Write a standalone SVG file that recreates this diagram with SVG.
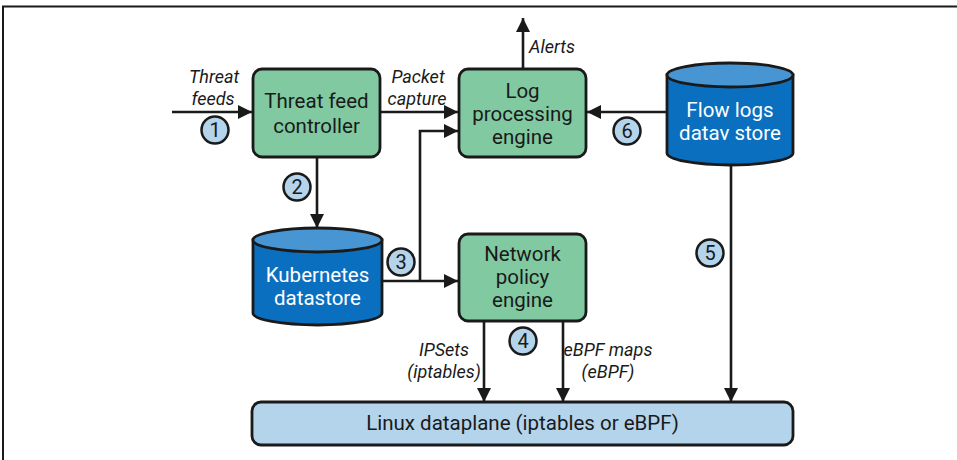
<svg xmlns="http://www.w3.org/2000/svg" width="957" height="460" viewBox="0 0 957 460">
<defs>
<style>
.box{fill:#80c9a1;stroke:#1a1a1a;stroke-width:2.8}
.dp{fill:#b3d4eb;stroke:#1a1a1a;stroke-width:2.8}
.cylb{fill:#0b6fbf;stroke:#1a1a1a;stroke-width:2.8}
.cylt{fill:#4895d3;stroke:#1a1a1a;stroke-width:2.8}
.t{font-family:Roboto,"Liberation Sans",sans-serif;font-size:20.5px;fill:#1a1a1a;text-anchor:middle}
.w{fill:#ffffff}
.i{font-family:Roboto,"Liberation Sans",sans-serif;font-size:18px;font-style:italic;fill:#1a1a1a;text-anchor:middle}
.c{fill:#b3d4eb;stroke:#1a1a1a;stroke-width:2.5}
.n{font-family:Roboto,"Liberation Sans",sans-serif;font-size:20px;fill:#1a1a1a;text-anchor:middle}
.ln{fill:none;stroke:#1a1a1a;stroke-width:2.6}
</style>
<marker id="ah" viewBox="0 0 10 10" refX="10" refY="5" markerWidth="5.5" markerHeight="5.5" markerUnits="strokeWidth" orient="auto">
<path d="M0,0 L10,5 L0,10 z" fill="#1a1a1a"/>
</marker>
</defs>
<rect width="957" height="460" fill="#ffffff"/>
<path d="M3,460 V6.5 H957" fill="none" stroke="#1a1a1a" stroke-width="2"/>

<g id="connectors">
<path class="ln" d="M172,112 H252" marker-end="url(#ah)"/>
<path class="ln" d="M380,112 H458" marker-end="url(#ah)"/>
<path class="ln" d="M382,281 H458" marker-end="url(#ah)"/>
<path class="ln" d="M420,281 V131 H458" marker-end="url(#ah)"/>
<path class="ln" d="M523,69 V18" marker-end="url(#ah)"/>
<path class="ln" d="M667,112 H587" marker-end="url(#ah)"/>
<path class="ln" d="M317,157 V228" marker-end="url(#ah)"/>
<path class="ln" d="M731,165 V402" marker-end="url(#ah)"/>
<path class="ln" d="M484,321 V402" marker-end="url(#ah)"/>
<path class="ln" d="M563,321 V402" marker-end="url(#ah)"/>
<text class="i" x="214" y="83">Threat</text>
<text class="i" x="213" y="105">feeds</text>
<text class="i" x="418" y="83">Packet</text>
<text class="i" x="417" y="105">capture</text>
<text class="i" x="529" y="53" style="text-anchor:start">Alerts</text>
<text class="i" x="444" y="356">IPSets</text>
<text class="i" x="444" y="378">(iptables)</text>
<text class="i" x="608" y="356">eBPF maps</text>
<text class="i" x="608" y="378">(eBPF)</text>
<g id="n1"><circle class="c" cx="215" cy="130" r="13.5"/><text class="n" x="215" y="137">1</text></g>
<g id="n2"><circle class="c" cx="297" cy="187" r="13.5"/><text class="n" x="297" y="194">2</text></g>
<g id="n3"><circle class="c" cx="401" cy="262" r="13.5"/><text class="n" x="401" y="269">3</text></g>
<g id="n4"><circle class="c" cx="523" cy="341" r="13.5"/><text class="n" x="523" y="348">4</text></g>
<g id="n5"><circle class="c" cx="710" cy="253" r="13.5"/><text class="n" x="710" y="260">5</text></g>
<g id="n6"><circle class="c" cx="627" cy="131" r="13.5"/><text class="n" x="627" y="138">6</text></g>
</g>

<g id="threat-feed-controller">
<rect class="box" x="253" y="69" width="127" height="88" rx="9"/>
<text class="t" x="316.5" y="108">Threat feed</text>
<text class="t" x="316.5" y="133">controller</text>
</g>

<g id="log-processing-engine">
<rect class="box" x="459" y="69" width="127" height="88" rx="9"/>
<text class="t" x="522.5" y="98">Log</text>
<text class="t" x="522.5" y="121">processing</text>
<text class="t" x="522.5" y="144">engine</text>
</g>

<g id="flow-logs-store">
<path class="cylb" d="M667,75 V153 A63,12 0 0 0 793,153 V75 Z"/>
<ellipse class="cylt" cx="730" cy="75" rx="63" ry="12"/>
<text class="t w" x="730" y="117">Flow logs</text>
<text class="t w" x="730" y="140">datav store</text>
</g>

<g id="kubernetes-datastore">
<path class="cylb" d="M253,240 V313 A64.5,12 0 0 0 382,313 V240 Z"/>
<ellipse class="cylt" cx="317.5" cy="240" rx="64.5" ry="12"/>
<text class="t w" x="317.5" y="282">Kubernetes</text>
<text class="t w" x="317.5" y="305">datastore</text>
</g>

<g id="network-policy-engine">
<rect class="box" x="459" y="234" width="127" height="87" rx="9"/>
<text class="t" x="522.5" y="261">Network</text>
<text class="t" x="522.5" y="284">policy</text>
<text class="t" x="522.5" y="307">engine</text>
</g>

<g id="linux-dataplane">
<rect class="dp" x="252" y="402" width="541" height="43" rx="9"/>
<text class="t" x="522.5" y="430">Linux dataplane (iptables or eBPF)</text>
</g>
</svg>
